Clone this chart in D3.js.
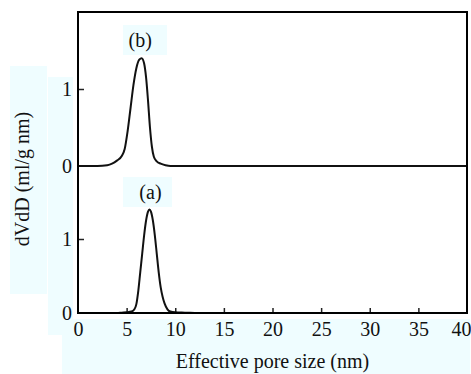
<!DOCTYPE html>
<html><head><meta charset="utf-8">
<script src="https://cdn.jsdelivr.net/npm/d3@7"></script>
<style>body{margin:0;background:#fff}svg{display:block}text{font-family:"Liberation Serif","Times New Roman",serif !important;fill:#111}</style>
</head><body><svg id="c" width="471" height="374"></svg>
<script>
const xTicks = [0,5,10,15,20,25,30,35,40];
const yTicks = [0,1];
const xTitle = "Effective pore size (nm)";
const yTitle = "dVdD (ml/g nm)";
const panelLabels = ["(b)","(a)"];
// curve (b): upper panel
const bX = [0,2,3,3.5,4,4.5,4.8,5.1,5.4,5.7,6.0,6.3,6.55,6.8,7.0,7.2,7.4,7.6,7.8,8.1,8.5,9,9.5,10,12,20,30,40];
const bY = [0,0,0.01,0.03,0.07,0.13,0.22,0.45,0.75,1.05,1.27,1.38,1.40,1.33,1.15,0.85,0.5,0.25,0.12,0.06,0.03,0.01,0,0,0,0,0,0];
// curve (a): lower panel
const aX = [0,3,4,4.5,5,5.5,5.8,6.0,6.2,6.4,6.6,6.8,7.0,7.2,7.35,7.5,7.7,7.9,8.1,8.3,8.5,8.7,8.9,9.2,9.5,10,11,12];
const aY = [0,0,0,0.005,0.01,0.02,0.05,0.12,0.3,0.55,0.8,1.05,1.25,1.37,1.40,1.37,1.25,1.05,0.8,0.55,0.35,0.22,0.13,0.05,0.02,0.01,0.005,0];

const svg = d3.select("#c");
const L=78, R=467, T=12, B=313, M=166;
const x = d3.scaleLinear().domain([0,40]).range([L,R]);
const yU = d3.scaleLinear().domain([0,2]).range([M,T]);
const yL = d3.scaleLinear().domain([0,2]).range([B,M-1]);
const bg = "#effdff";
const serif = '"Liberation Serif","Times New Roman",serif';

// light label backgrounds
svg.append("rect").attr("x",10).attr("y",66).attr("width",37).attr("height",228).attr("fill",bg);
svg.append("rect").attr("x",48).attr("y",77).attr("width",25).attr("height",258).attr("fill",bg);
svg.append("rect").attr("x",62).attr("y",319).attr("width",408).attr("height",55).attr("fill",bg);
svg.append("rect").attr("x",123).attr("y",25).attr("width",44).attr("height",30).attr("fill",bg);
svg.append("rect").attr("x",123).attr("y",177).attr("width",49).attr("height",30).attr("fill",bg);

const line = (ys) => d3.line().x(d=>x(d[0])).y(d=>ys(d[1])).curve(d3.curveMonotoneX);

// axes
const fs = "20px";
const fmt = d3.format("d");
const gB = svg.append("g").attr("transform",`translate(0,${B})`)
  .call(d3.axisBottom(x).tickValues(xTicks).tickFormat(fmt).tickSizeInner(-5).tickSizeOuter(0).tickPadding(9));
const gU = svg.append("g").attr("transform",`translate(${L},0)`)
  .call(d3.axisLeft(yU).tickValues(yTicks).tickFormat(fmt).tickSizeInner(-6).tickSizeOuter(0).tickPadding(6));
const gLo = svg.append("g").attr("transform",`translate(${L},0)`)
  .call(d3.axisLeft(yL).tickValues(yTicks).tickFormat(fmt).tickSizeInner(-6).tickSizeOuter(0).tickPadding(6));
[gB,gU,gLo].forEach(g=>{
  g.attr("font-family",serif);
  g.select(".domain").remove();
  g.selectAll(".tick line").attr("stroke","#222").attr("stroke-width",1.5);
  g.selectAll(".tick text").attr("font-size",fs).style("font-family",serif).attr("fill","#111");
});
gU.selectAll(".tick").filter(d=>d===0).select("line").remove();
gLo.selectAll(".tick").filter(d=>d===0).select("line").remove();
gB.selectAll(".tick").filter(d=>d===0||d===40).select("line").remove();
gB.selectAll(".tick").filter(d=>d===40).select("text").attr("text-anchor","end").attr("x",R-L > 0 ? 4 : 0);

// curves
svg.append("path").datum(bX.map((v,i)=>[v,bY[i]])).attr("d",line(yU))
  .attr("fill","none").attr("stroke","#111").attr("stroke-width",2);
svg.append("path").datum(aX.map((v,i)=>[v,aY[i]])).attr("d",line(yL))
  .attr("fill","none").attr("stroke","#111").attr("stroke-width",2);

// frame
svg.append("rect").attr("x",L).attr("y",T).attr("width",R-L).attr("height",B-T)
  .attr("fill","none").attr("stroke","#000").attr("stroke-width",2);

// panel labels
svg.append("text").attr("x",x(6.4)).attr("y",47).attr("text-anchor","middle").attr("font-size",fs).text(panelLabels[0]);
svg.append("text").attr("x",x(7.45)).attr("y",199).attr("text-anchor","middle").attr("font-size",fs).text(panelLabels[1]);

// titles
svg.append("text").attr("x",(L+R)/2).attr("y",368).attr("text-anchor","middle").attr("font-size",fs).text(xTitle);
svg.append("text").attr("transform","translate(29,179) rotate(-90)").attr("text-anchor","middle").attr("font-size",fs).text(yTitle);
</script></body></html>
